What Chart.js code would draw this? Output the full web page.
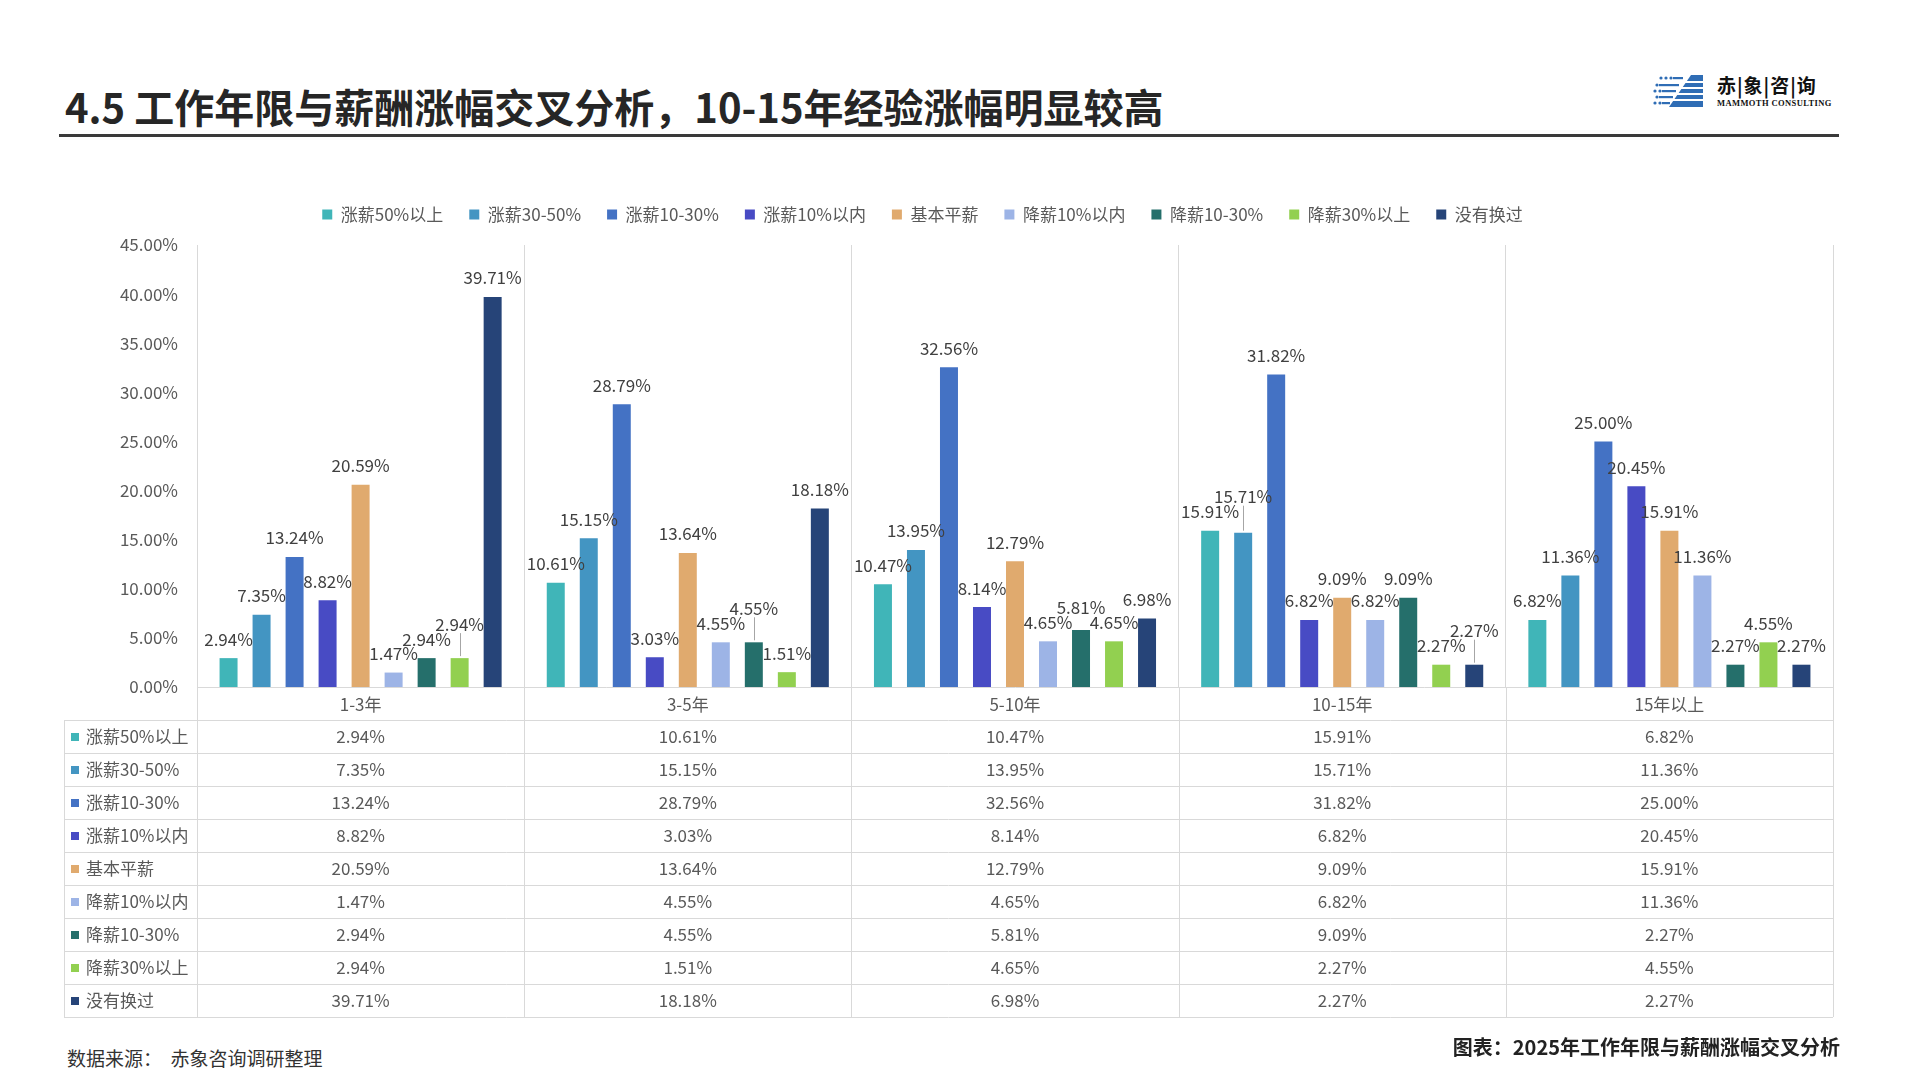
<!DOCTYPE html>
<html>
<head>
<meta charset="utf-8">
<script src="https://cdn.jsdelivr.net/npm/chart.js@4.4.1/dist/chart.umd.min.js"></script>
<style>
  body { margin: 0; width: 1920px; height: 1080px; background: #fff; position: relative; overflow: hidden;
         font-family: "Noto Sans CJK SC", "Noto Sans", sans-serif; }
  .title { position: absolute; left: 65px; top: 85px; font-size: 40px; line-height: 42px; font-weight: bold; color: #262626; white-space: nowrap; }
  .rule { position: absolute; left: 59px; top: 134px; width: 1780px; height: 3px; background: #3a3a3a; }
  .logo { position: absolute; left: 1653px; top: 73px; width: 195px; height: 36px; }
  .logo-cn { position: absolute; left: 64px; top: 2px; font-size: 19px; line-height: 20px; font-weight: bold; color: #111; letter-spacing: 1px; white-space: nowrap; }
  .logo-en { position: absolute; left: 64px; top: 26px; font-family: "Liberation Serif", serif; font-size: 8.5px; line-height: 9px; font-weight: bold; color: #111; letter-spacing: 0.4px; white-space: nowrap; }
  .wrap { position: absolute; left: 0; top: 160px; width: 1920px; height: 880px; }
  .source { position: absolute; left: 67px; top: 1046px; font-size: 19px; line-height: 24px; color: #333; white-space: pre; }
  .caption { position: absolute; right: 80px; top: 1035px; font-size: 20px; line-height: 24px; font-weight: bold; color: #222; white-space: nowrap; }
</style>
</head>
<body>
<div class="title">4.5 工作年限与薪酬涨幅交叉分析，10-15年经验涨幅明显较高</div>
<div class="rule"></div>
<div class="logo">
  <svg width="54" height="36" viewBox="0 0 54 36">
    <g fill="#2f6db5">
      <polygon points="38,2 50,2 50,34 16,34" />
    </g>
    <g stroke="#fff" stroke-width="2.2">
      <line x1="0" y1="9" x2="54" y2="9" />
      <line x1="0" y1="15" x2="54" y2="15" />
      <line x1="0" y1="21" x2="54" y2="21" />
      <line x1="0" y1="27" x2="54" y2="27" />
    </g>
    <g fill="#2f6db5">
      <circle cx="8" cy="5" r="1.6" /><circle cx="13" cy="5" r="1.6" /><circle cx="18" cy="5" r="1.6" />
      <rect x="20" y="4" width="10" height="2.2" />
      <circle cx="4" cy="12" r="1.6" /><rect x="6" y="11" width="20" height="2.2" />
      <circle cx="2" cy="18" r="1.6" /><circle cx="7" cy="18" r="1.6" /><rect x="9" y="17" width="14" height="2.2" />
      <circle cx="4" cy="24" r="1.6" /><rect x="6" y="23" width="14" height="2.2" />
      <circle cx="2" cy="30" r="1.6" /><circle cx="7" cy="30" r="1.6" /><rect x="9" y="29" width="8" height="2.2" />
    </g>
  </svg>
  <div class="logo-cn">赤|象|咨|询</div>
  <div class="logo-en">MAMMOTH CONSULTING</div>
</div>
<div class="wrap"><canvas id="myChart" width="1920" height="880"></canvas></div>
<div class="source">数据来源：  赤象咨询调研整理</div>
<div class="caption">图表：2025年工作年限与薪酬涨幅交叉分析</div>

<script>
// categories (work experience)
const categories = ["1-3年", "3-5年", "5-10年", "10-15年", "15年以上"];

// series names
const seriesNames = ["涨薪50%以上", "涨薪30-50%", "涨薪10-30%", "涨薪10%以内", "基本平薪",
  "降薪10%以内", "降薪10-30%", "降薪30%以上", "没有换过"];

// values in %, one array per series
const raiseOver50 = [2.94, 10.61, 10.47, 15.91, 6.82];
const raise30to50 = [7.35, 15.15, 13.95, 15.71, 11.36];
const raise10to30 = [13.24, 28.79, 32.56, 31.82, 25.00];
const raiseUnder10 = [8.82, 3.03, 8.14, 6.82, 20.45];
const flatPay = [20.59, 13.64, 12.79, 9.09, 15.91];
const cutUnder10 = [1.47, 4.55, 4.65, 6.82, 11.36];
const cut10to30 = [2.94, 4.55, 5.81, 9.09, 2.27];
const cutOver30 = [2.94, 1.51, 4.65, 2.27, 4.55];
const neverChanged = [39.71, 18.18, 6.98, 2.27, 2.27];

// y axis tick values
const yTicks = [0, 5, 10, 15, 20, 25, 30, 35, 40, 45];

const seriesValues = [raiseOver50, raise30to50, raise10to30, raiseUnder10, flatPay,
  cutUnder10, cut10to30, cutOver30, neverChanged];
const seriesColors = ["#40b5b8", "#4395c2", "#4472c4", "#484bc4", "#e0aa6e",
  "#9db4e6", "#256f6b", "#92d050", "#264478"];

const FONT = '"Noto Sans CJK SC", "Noto Sans", sans-serif';
const pct = (v) => v.toFixed(2) + "%";

// labels above bars, pushed up when they run into a neighbour
const valueLabels = {
  id: "valueLabels",
  afterDatasetsDraw(chart) {
    const ctx = chart.ctx;
    ctx.save();
    ctx.font = "17px " + FONT;
    ctx.fillStyle = "#404040";
    ctx.textAlign = "center";
    ctx.textBaseline = "middle";
    const h = 14;
    categories.forEach((c, i) => {
      const placed = [];
      chart.data.datasets.forEach((ds, d) => {
        const bar = chart.getDatasetMeta(d).data[i];
        const text = pct(ds.data[i]);
        const w = ctx.measureText(text).width;
        const base = bar.y - 19;
        let y = base;
        let moved = true;
        while (moved) {
          moved = false;
          for (const p of placed) {
            if (Math.abs(p.x - bar.x) < (p.w + w) / 2 - 4 && Math.abs(p.y - y) < h) {
              y = p.y - h - 1;
              moved = true;
            }
          }
        }
        placed.push({ x: bar.x, y: y, w: w });
        if (base - y > 6) {
          ctx.strokeStyle = "#a6a6a6";
          ctx.lineWidth = 1;
          ctx.beginPath();
          ctx.moveTo(Math.round(bar.x) + 0.5, y + 9);
          ctx.lineTo(Math.round(bar.x) + 0.5, bar.y - 2);
          ctx.stroke();
        }
        ctx.fillText(text, bar.x, y);
      });
    });
    ctx.restore();
  }
};

// data table under the x axis (Excel style)
const dataTable = {
  id: "dataTable",
  afterDraw(chart) {
    const { ctx, chartArea } = chart;
    const x = chart.scales.x;
    const n = categories.length;
    const colW = (x.right - x.left) / n;
    const rowH = (x.bottom - chartArea.bottom) / (seriesNames.length + 1);
    const tableTop = chartArea.bottom + rowH;
    const tableBottom = x.bottom;
    const keyLeft = chart.options.layout.padding.left;

    ctx.save();
    ctx.strokeStyle = "#d9d9d9";
    ctx.lineWidth = 1;
    ctx.beginPath();
    for (let k = 0; k <= n; k++) {
      const xx = Math.round(x.left + k * colW) + 0.5;
      ctx.moveTo(xx, chartArea.bottom);
      ctx.lineTo(xx, tableBottom);
    }
    ctx.moveTo(keyLeft + 0.5, tableTop);
    ctx.lineTo(keyLeft + 0.5, tableBottom);
    for (let r = 0; r <= seriesNames.length; r++) {
      const yy = Math.round(tableTop + r * rowH) + 0.5;
      ctx.moveTo(keyLeft, yy);
      ctx.lineTo(x.right, yy);
    }
    ctx.stroke();

    ctx.font = "17px " + FONT;
    ctx.fillStyle = "#595959";
    ctx.textBaseline = "middle";
    seriesNames.forEach((name, r) => {
      const cy = tableTop + r * rowH + rowH / 2;
      ctx.fillStyle = seriesColors[r];
      ctx.fillRect(keyLeft + 7, Math.round(cy - 4), 8, 8);
      ctx.fillStyle = "#595959";
      ctx.textAlign = "left";
      ctx.fillText(name, keyLeft + 22, cy);
      ctx.textAlign = "center";
      seriesValues[r].forEach((v, i) => {
        ctx.fillText(pct(v), x.left + colW * (i + 0.5), cy);
      });
    });
    ctx.restore();
  }
};

// fixed legend height, and nudge the legend row a little to the left
const legendShift = {
  id: "legendShift",
  beforeInit(chart) {
    const fit = chart.legend.fit;
    chart.legend.fit = function () {
      fit.bind(chart.legend)();
      this.height = 65;
    };
  },
  afterLayout(chart) {
    chart.legend.left -= 26;
    chart.legend.right -= 26;
  }
};

const ctx = document.getElementById("myChart").getContext("2d");
const myChart = new Chart(ctx, {
  type: "bar",
  data: {
    labels: categories,
    datasets: seriesNames.map((name, i) => ({
      label: name,
      data: seriesValues[i],
      backgroundColor: seriesColors[i],
      borderWidth: 0,
      categoryPercentage: 0.908,
      barPercentage: 0.545
    }))
  },
  options: {
    responsive: false,
    animation: false,
    devicePixelRatio: 1,
    layout: { padding: { left: 64, right: 87, top: 20, bottom: 23 } },
    plugins: {
      legend: {
        position: "top",
        labels: {
          boxWidth: 10,
          boxHeight: 10,
          padding: 26,
          color: "#595959",
          font: { family: FONT, size: 17 }
        }
      },
      tooltip: { enabled: false }
    },
    scales: {
      x: {
        grid: { offset: true, color: "#d9d9d9", drawTicks: false },
        border: { color: "#d9d9d9" },
        ticks: { color: "#595959", padding: 7, font: { family: FONT, size: 17 } },
        afterFit(scale) { scale.height = 330; }
      },
      y: {
        min: 0,
        max: 45,
        grid: { display: false, drawTicks: false },
        border: { display: false },
        afterBuildTicks(scale) { scale.ticks = yTicks.map((v) => ({ value: v })); },
        afterFit(scale) { scale.width = 133; },
        ticks: {
          color: "#595959",
          padding: 19,
          font: { family: FONT, size: 17 },
          callback: (v) => pct(v)
        }
      }
    }
  },
  plugins: [valueLabels, dataTable, legendShift]
});
</script>
</body>
</html>
